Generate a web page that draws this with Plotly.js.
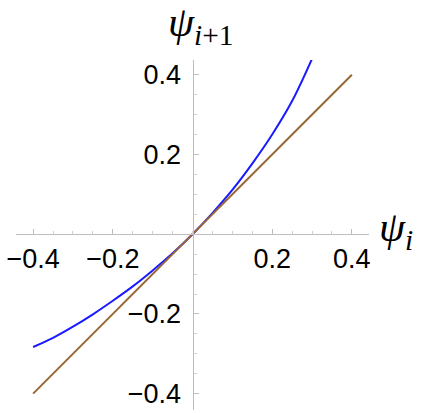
<!DOCTYPE html>
<html>
<head>
<meta charset="utf-8">
<script src="https://cdn.plot.ly/plotly-3.0.1.min.js"></script>
<style>
  html, body { margin: 0; padding: 0; background: #fff; }
  #plot { width: 424px; height: 413px; }
</style>
</head>
<body>
<div id="plot"></div>
<script>
// psi_i values sampled along the blue map curve
var psiI = [-0.4, -0.35, -0.3, -0.25, -0.2, -0.15, -0.1, -0.05, 0, 0.05, 0.1, 0.15, 0.2, 0.25, 0.3];
// psi_{i+1}
var psiNext = [-0.283, -0.26, -0.232, -0.201, -0.167, -0.131, -0.091, -0.048, 0, 0.053, 0.111, 0.177, 0.25, 0.334, 0.44];

// identity line endpoints
var diagX = [-0.4, 0.4];
var diagY = [-0.4, 0.4];

var xTicks = [-0.4, -0.2, 0.2, 0.4];
var yTicks = [-0.4, -0.2, 0.2, 0.4];

function fmt(v) { return v.toFixed(1).replace('-', '\u2212'); }

var mapTrace = {
    x: psiI,
    y: psiNext,
    mode: 'lines',
    type: 'scatter',
    line: {color: '#1a1aff', width: 2, shape: 'spline'},
    hoverinfo: 'skip'
};

var diagTrace = {
    x: diagX,
    y: diagY,
    mode: 'lines',
    type: 'scatter',
    line: {color: '#996633', width: 2},
    hoverinfo: 'skip'
};

var tickFont = {family: 'Liberation Sans, Arial, sans-serif', size: 27, color: '#000'};
var titleFont = {family: 'Liberation Serif, Times New Roman, serif', size: 42, color: '#000'};

var layout = {
    width: 424,
    height: 413,
    margin: {l: 16, r: 55, t: 60, b: 3},
    showlegend: false,
    paper_bgcolor: '#fff',
    plot_bgcolor: '#fff',
    font: {family: 'Liberation Sans, Arial, sans-serif', size: 27, color: '#000'},
    xaxis: {
        range: [-0.443, 0.443],
        tickmode: 'array',
        tickvals: xTicks,
        ticktext: xTicks.map(fmt),
        tickfont: tickFont,
        showgrid: false,
        zeroline: false,
        showline: true,
        linecolor: '#bdbdbd',
        ticks: 'inside',
        ticklen: 5,
        tickcolor: '#bdbdbd',
        minor: {ticks: 'inside', ticklen: 3, dtick: 0.05, tickcolor: '#d0d0d0'},
        anchor: 'free',
        position: 0.502,
        ticklabelstandoff: 0
    },
    yaxis: {
        range: [-0.441, 0.437],
        tickmode: 'array',
        tickvals: yTicks,
        ticktext: yTicks.map(fmt),
        tickfont: tickFont,
        showgrid: false,
        zeroline: false,
        showline: true,
        linecolor: '#bdbdbd',
        ticks: 'inside',
        ticklen: 5,
        tickcolor: '#bdbdbd',
        minor: {ticks: 'inside', ticklen: 3, dtick: 0.05, tickcolor: '#d0d0d0'},
        anchor: 'free',
        position: 0.5,
        ticklabelstandoff: 6
    },
    annotations: [
        {
            xref: 'paper', yref: 'paper',
            x: 0.5, y: 1, xanchor: 'center', yanchor: 'bottom', yshift: 7,
            xshift: 8,
            text: '<i>ψ</i><sub><i>i</i>+1</sub>',
            showarrow: false,
            font: titleFont
        },
        {
            xref: 'paper', yref: 'paper',
            x: 1, y: 0.502, xanchor: 'left', yanchor: 'middle', xshift: 8, yshift: 4,
            text: '<i>ψ</i><sub><i>i</i></sub>',
            showarrow: false,
            font: titleFont
        }
    ]
};

Plotly.newPlot('plot', [mapTrace, diagTrace], layout, {staticPlot: true, displayModeBar: false});
</script>
</body>
</html>
